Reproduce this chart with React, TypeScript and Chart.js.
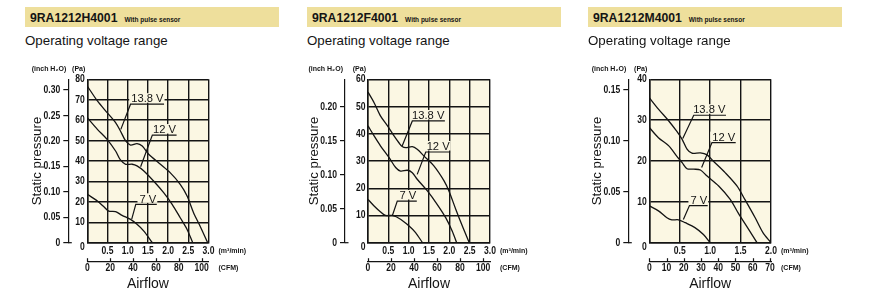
import React, { useEffect, useRef } from 'react';
import { Chart, registerables } from 'chart.js';

Chart.register(...registerables);

// ---------- text ----------
const MODELS = ['9RA1212H4001', '9RA1212F4001', '9RA1212M4001'];
const SUBTITLE = 'With pulse sensor';
const SECTION = 'Operating voltage range';
const VOLTAGES = ['13.8 V', '12 V', '7 V'];
const Y_TITLE = 'Static pressure';
const X_TITLE = 'Airflow';
const UNIT_INCH = '(inch H\u2082O)';
const UNIT_PA = '(Pa)';
const UNIT_M3 = '(m\u00b3/min)';
const UNIT_CFM = '(CFM)';

// ---------- axis ranges ----------
const AIRFLOW_MAX = [3.0, 3.0, 2.0]; // m3/min
const PRESSURE_MAX = [80, 60, 40]; // Pa
const PA_STEP = [10, 10, 10];
const AIRFLOW_STEP = [0.5, 0.5, 0.5];
const CFM_STEP = [20, 20, 10];
const INCH_STEP = [0.05, 0.05, 0.05];
const CFM_PER_M3MIN = 35.3147;
const PA_PER_INCH = 249.089;

// ---------- 9RA1212H4001 ----------
const H_Q_138 = [0, 0.25, 0.49, 0.7, 0.82, 0.95, 1.07, 1.23, 1.36, 1.52, 1.81, 2.05, 2.3, 2.47, 2.63, 2.79, 2.98];
const H_P_138 = [76.7, 69.4, 63.7, 58.8, 54.7, 49.8, 47.8, 48.5, 47.3, 43.3, 38.4, 34.3, 28.6, 22.9, 14.7, 8.2, 0];
const H_Q_12 = [0, 0.25, 0.49, 0.7, 0.82, 0.95, 1.11, 1.23, 1.4, 1.64, 1.89, 2.1, 2.3, 2.47, 2.61];
const H_P_12 = [61.2, 55.5, 50.6, 44.9, 40.5, 38.4, 38.4, 37.6, 35.1, 30.2, 24.5, 18.8, 12.2, 6.5, 0];
const H_Q_7 = [0, 0.25, 0.41, 0.53, 0.7, 0.86, 1.07, 1.23, 1.4, 1.61];
const H_P_7 = [23.7, 20.4, 17.6, 15.5, 15.2, 13.4, 11.4, 9.0, 5.7, 0];

// ---------- 9RA1212F4001 ----------
const F_Q_138 = [0, 0.15, 0.31, 0.48, 0.64, 0.76, 0.84, 0.93, 1.09, 1.21, 1.38, 1.62, 1.87, 1.99, 2.16, 2.32, 2.49];
const F_P_138 = [55.3, 51.4, 46.5, 42.9, 39.2, 36.7, 35.3, 34.9, 35.3, 34.3, 31.8, 28.2, 22.7, 19.0, 12.2, 6.1, 0];
const F_Q_12 = [0, 0.15, 0.31, 0.52, 0.68, 0.8, 0.97, 1.09, 1.21, 1.46, 1.7, 1.91, 2.07, 2.18];
const F_P_12 = [42.9, 39.2, 35.5, 31.2, 27.6, 26.3, 26.6, 25.7, 23.3, 19.0, 14.1, 9.2, 4.3, 0];
const F_Q_7 = [0, 0.15, 0.31, 0.43, 0.6, 0.8, 1.01, 1.17, 1.34];
const F_P_7 = [15.9, 13.5, 11.3, 10.0, 10.0, 8.6, 6.1, 3.7, 0];

// ---------- 9RA1212M4001 ----------
const M_Q_138 = [0, 0.15, 0.32, 0.45, 0.54, 0.62, 0.7, 0.84, 0.95, 1.05, 1.25, 1.44, 1.57, 1.74, 1.87, 2.0];
const M_P_138 = [35.5, 32.7, 29.8, 27.3, 25.3, 22.9, 21.9, 22.0, 21.5, 20.0, 17.1, 13.9, 10.6, 6.1, 2.4, 0];
const M_Q_12 = [0, 0.15, 0.32, 0.45, 0.54, 0.62, 0.73, 0.84, 0.95, 1.14, 1.33, 1.46, 1.63, 1.77];
const M_P_12 = [28.2, 25.7, 23.7, 21.2, 19.6, 18.1, 18.0, 17.8, 16.3, 13.9, 10.6, 7.3, 3.3, 0];
const M_Q_7 = [0, 0.15, 0.29, 0.37, 0.48, 0.59, 0.75, 0.89, 1.0];
const M_P_7 = [9.0, 7.8, 6.1, 5.6, 5.6, 4.9, 3.7, 2.0, 0];

const SERIES = [
  [[H_Q_138, H_P_138], [H_Q_12, H_P_12], [H_Q_7, H_P_7]],
  [[F_Q_138, F_P_138], [F_Q_12, F_P_12], [F_Q_7, F_P_7]],
  [[M_Q_138, M_P_138], [M_Q_12, M_P_12], [M_Q_7, M_P_7]],
];

// curve label callouts (data units): underline from x1..x2 at y, leader to (ex, ey)
const CALLOUTS = [
  [
    { x1: 1.07, x2: 1.9, y: 67.8, ex: 0.83, ey: 55.5 },
    { x1: 1.61, x2: 2.21, y: 52.7, ex: 1.32, ey: 37.2 },
    { x1: 1.2, x2: 1.72, y: 18.8, ex: 1.1, ey: 11.5 },
  ],
  [
    { x1: 1.09, x2: 1.89, y: 44.7, ex: 0.84, ey: 35.5 },
    { x1: 1.42, x2: 2.02, y: 33.3, ex: 1.21, ey: 25.1 },
    { x1: 0.72, x2: 1.2, y: 15.3, ex: 0.6, ey: 10.0 },
  ],
  [
    { x1: 0.73, x2: 1.26, y: 31.2, ex: 0.55, ey: 25.5 },
    { x1: 1.03, x2: 1.42, y: 24.5, ex: 0.86, ey: 18.4 },
    { x1: 0.66, x2: 0.96, y: 9.1, ex: 0.56, ey: 5.7 },
  ],
];

// ---------- layout ----------
const PANEL_LEFT = [0, 290, 570];
const PANEL_WIDTH = [290, 290, 309];
const HEADER_LEFT = [25, 307, 588];
const CANVAS_TOP = 60;
const CANVAS_H = 241;
const INCH_AXIS_X = [68.3, 55, 58.3];
const PLOT_LEFT = [87.3, 78, 79.3];
const PLOT_RIGHT = [208.5, 200, 201];
const PLOT_TOP = 19.3;
const PLOT_H = 163.4;
const X_AXIS_H = 19;
const CFM_AXIS_H = CANVAS_H - PLOT_TOP - PLOT_H - X_AXIS_H;

const INK = '#141414';
const BG = '#FBF7E3';
const BAR = '#EEDF9C';
const SANS = "'Liberation Sans', Arial, Helvetica, sans-serif";
const TICK_FONT = `bold 11px ${SANS}`;
const SQUEEZE = 0.78;

function condensed(ctx: CanvasRenderingContext2D, text: string, x: number, y: number, align: CanvasTextAlign) {
  ctx.save();
  ctx.translate(x, y);
  ctx.scale(SQUEEZE, 1);
  ctx.textAlign = align;
  ctx.textBaseline = 'middle';
  ctx.fillText(text, 0, 0);
  ctx.restore();
}

function makeChart(canvas: HTMLCanvasElement, i: number) {
  const xMax = AIRFLOW_MAX[i];
  const yMax = PRESSURE_MAX[i];
  const datasets = SERIES[i].map(([q, p], k) => ({
    label: VOLTAGES[k],
    data: q.map((v, j) => ({ x: v, y: p[j] })),
    borderColor: INK,
    borderWidth: 1.3,
    pointRadius: 0,
    tension: 0.3,
    fill: false,
    xAxisID: 'x',
    yAxisID: 'y',
  }));

  const extras = {
    id: 'extras',
    beforeDraw(chart: any) {
      const { ctx, chartArea: a } = chart;
      ctx.save();
      ctx.fillStyle = BG;
      ctx.fillRect(a.left, a.top, a.right - a.left, a.bottom - a.top);
      ctx.restore();
    },
    afterDraw(chart: any) {
      const { ctx, chartArea: a } = chart;
      const xs = chart.scales.x;
      const ys = chart.scales.y;
      const cfm = chart.scales.cfm;
      const inch = chart.scales.inch;
      ctx.save();
      ctx.strokeStyle = INK;
      ctx.fillStyle = INK;
      ctx.lineWidth = 1.2;
      // CFM tick marks pointing up
      cfm.ticks.forEach((t: any) => {
        const px = Math.round(cfm.getPixelForValue(t.value)) + 0.5;
        ctx.beginPath();
        ctx.moveTo(px, cfm.top);
        ctx.lineTo(px, cfm.top - 3.5);
        ctx.stroke();
      });
      // hook at the bottom of the inch axis
      const ix = inch.right;
      ctx.beginPath();
      ctx.moveTo(ix, a.bottom);
      ctx.lineTo(ix + 3.5, a.bottom);
      ctx.stroke();

      // tick labels (condensed)
      ctx.font = TICK_FONT;
      ys.ticks.forEach((t: any) => {
        const py = ys.getPixelForValue(t.value) + (t.value === 0 ? 4.5 : 0);
        condensed(ctx, String(t.value), a.left - 2.5, py, 'right');
      });
      inch.ticks.forEach((t: any) => {
        const v = Number(t.value);
        const label = Math.abs(v) < 1e-9 ? '0' : v.toFixed(2);
        condensed(ctx, label, ix - 8, inch.getPixelForValue(v), 'right');
      });
      xs.ticks.forEach((t: any) => {
        const v = Number(t.value);
        if (Math.abs(v) < 1e-9) return;
        condensed(ctx, v.toFixed(1), xs.getPixelForValue(v), xs.top + 8, 'center');
      });
      cfm.ticks.forEach((t: any) => {
        const v = Number(t.value);
        condensed(ctx, String(Math.round(v)), cfm.getPixelForValue(v), cfm.top + 6.2, 'center');
      });

      // unit labels
      ctx.font = `bold 7px ${SANS}`;
      ctx.textBaseline = 'middle';
      ctx.textAlign = 'right';
      ctx.fillText(UNIT_INCH, ix - 2, a.top - 10);
      ctx.fillText(UNIT_PA, a.left - 2, a.top - 10);
      ctx.textAlign = 'left';
      ctx.fillText(UNIT_M3, a.right + 10, xs.top + 8);
      ctx.fillText(UNIT_CFM, a.right + 10, cfm.top + 6.5);
      // axis titles
      ctx.textAlign = 'center';
      ctx.font = `14px ${SANS}`;
      ctx.fillText(X_TITLE, (a.left + a.right) / 2, cfm.top + 22.6);
      ctx.save();
      ctx.font = `13.3px ${SANS}`;
      ctx.translate(ix - 31, (a.top + a.bottom) / 2);
      ctx.rotate(-Math.PI / 2);
      ctx.fillText(Y_TITLE, 0, 0);
      ctx.restore();
      // callouts
      ctx.font = `11.2px ${SANS}`;
      CALLOUTS[i].forEach((c, k) => {
        const x1 = xs.getPixelForValue(c.x1);
        const x2 = xs.getPixelForValue(c.x2);
        const y = ys.getPixelForValue(c.y);
        const ex = xs.getPixelForValue(c.ex);
        const ey = ys.getPixelForValue(c.ey);
        const text = VOLTAGES[k];
        const w = ctx.measureText(text).width;
        ctx.fillStyle = BG;
        ctx.fillRect(x2 - w - 2.5, y - 11, w + 3, 9.5);
        ctx.fillStyle = INK;
        ctx.textAlign = 'right';
        ctx.textBaseline = 'alphabetic';
        ctx.fillText(text, x2 - 0.5, y - 1.8);
        ctx.beginPath();
        ctx.moveTo(ex, ey);
        ctx.lineTo(x1, y);
        ctx.lineTo(x2, y);
        ctx.stroke();
      });
      ctx.restore();
    },
  };

  const W = PANEL_WIDTH[i];
  return new Chart(canvas, {
    type: 'line',
    data: { datasets },
    plugins: [extras],
    options: {
      animation: false,
      responsive: false,
      devicePixelRatio: 1,
      events: [],
      layout: { padding: { left: 0, right: W - PLOT_RIGHT[i], top: PLOT_TOP, bottom: 0 } },
      plugins: { legend: { display: false }, tooltip: { enabled: false } },
      scales: {
        x: {
          type: 'linear',
          position: 'bottom',
          weight: 0,
          min: 0,
          max: xMax,
          afterFit: (s: any) => { s.height = X_AXIS_H; },
          grid: { color: INK, lineWidth: 1.4, drawTicks: false },
          border: { color: INK, width: 1.5 },
          ticks: { display: false, stepSize: AIRFLOW_STEP[i], autoSkip: false },
        },
        cfm: {
          type: 'linear',
          position: 'bottom',
          weight: 1,
          min: 0,
          max: xMax * CFM_PER_M3MIN,
          afterFit: (s: any) => { s.height = CFM_AXIS_H; },
          grid: { display: true, drawOnChartArea: false, drawTicks: false },
          border: { color: INK, width: 1.2 },
          ticks: { display: false, stepSize: CFM_STEP[i], includeBounds: false, autoSkip: false },
        },
        y: {
          type: 'linear',
          position: 'left',
          weight: 0,
          min: 0,
          max: yMax,
          afterFit: (s: any) => { s.width = PLOT_LEFT[i] - INCH_AXIS_X[i]; },
          grid: { color: INK, lineWidth: 1.4, drawTicks: false },
          border: { color: INK, width: 1.5 },
          ticks: { display: false, stepSize: PA_STEP[i], autoSkip: false },
        },
        inch: {
          type: 'linear',
          position: 'left',
          weight: 1,
          min: 0,
          max: yMax / PA_PER_INCH,
          afterFit: (s: any) => { s.width = INCH_AXIS_X[i]; },
          grid: { display: true, drawOnChartArea: false, drawTicks: true, tickLength: 5, color: INK, lineWidth: 1.2 },
          border: { color: INK, width: 1.2 },
          ticks: { display: false, stepSize: INCH_STEP[i], includeBounds: false, autoSkip: false },
        },
      },
    } as any,
  });
}

function Panel({ i }: { i: number }) {
  const ref = useRef<HTMLCanvasElement>(null);
  useEffect(() => {
    const chart = makeChart(ref.current as HTMLCanvasElement, i);
    return () => chart.destroy();
  }, [i]);
  const W = PANEL_WIDTH[i];
  return (
    <>
      <div
        style={{
          position: 'absolute',
          left: HEADER_LEFT[i],
          top: 7,
          width: 254,
          height: 20,
          background: BAR,
          lineHeight: '20px',
          paddingLeft: 5,
          boxSizing: 'border-box',
          fontFamily: SANS,
          color: INK,
          whiteSpace: 'nowrap',
        }}
      >
        <span style={{ fontWeight: 'bold', fontSize: 12.2 }}>{MODELS[i]}</span>
        <span style={{ fontWeight: 'bold', fontSize: 6.5, marginLeft: 7 }}>{SUBTITLE}</span>
      </div>
      <div
        style={{
          position: 'absolute',
          left: HEADER_LEFT[i],
          top: 33.2,
          fontFamily: SANS,
          fontSize: 13.3,
          lineHeight: '16px',
          color: INK,
          whiteSpace: 'nowrap',
        }}
      >
        {SECTION}
      </div>
      <canvas
        ref={ref}
        width={W}
        height={CANVAS_H}
        style={{ position: 'absolute', left: PANEL_LEFT[i], top: CANVAS_TOP, width: W, height: CANVAS_H }}
      />
    </>
  );
}

export default function App() {
  return (
    <div
      style={{
        position: 'absolute',
        left: 0,
        top: 0,
        width: 879,
        height: 301,
        background: '#fff',
        overflow: 'hidden',
      }}
    >
      <Panel i={0} />
      <Panel i={1} />
      <Panel i={2} />
    </div>
  );
}
